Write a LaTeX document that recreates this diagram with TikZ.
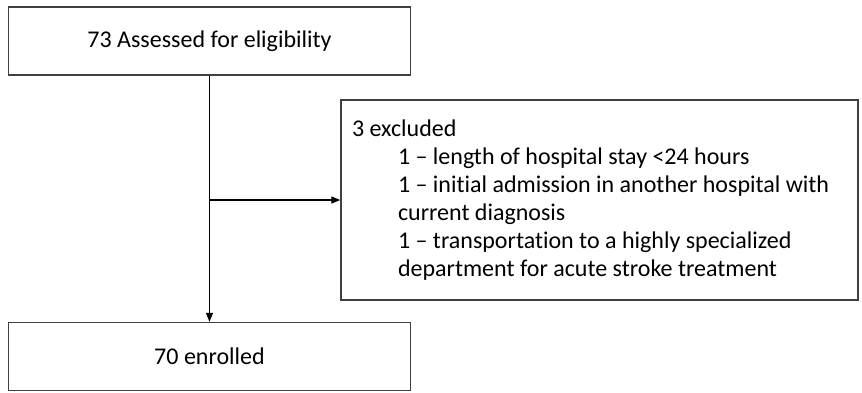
\documentclass[tikz,border=0pt]{standalone}
\usepackage{fontspec}
\setmainfont{Carlito}[Ligatures=NoCommon]
\usepackage{tikz}
\usetikzlibrary{arrows.meta,positioning}
\definecolor{FEdge}{HTML}{404040}
\definecolor{FLine}{HTML}{000000}
\newcommand{\indentitem}{\hspace*{46pt}}

\begin{document}
\begin{tikzpicture}[
  x=1pt,y=-1pt,
  every node/.style={font=\fontsize{24}{28}\selectfont},
  flowbox/.style={draw=FEdge,line width=1.4pt,fill=white,
    minimum width=402pt,minimum height=68pt,inner sep=0pt,align=center},
  notebox/.style={draw=FEdge,line width=1.4pt,fill=white,
    minimum width=517pt,minimum height=200pt,text width=495pt,
    inner sep=11pt,align=flush left},
  arr/.style={-{Triangle[length=9pt,width=7pt]},line width=1.3pt,color=FLine}
]
  \useasboundingbox (0,0) rectangle (862,392);
  \node[flowbox] (assessed) at (209.5,41) {73 Assessed for eligibility};
  \node[flowbox] (enrolled) at (209.5,356.5) {70 enrolled};
  \node[notebox] (excluded) at (599.5,200) {3 excluded\\
    \indentitem 1 – length of hospital stay <24 hours\\
    \indentitem 1 – initial admission in another hospital with\\
    \indentitem current diagnosis\\
    \indentitem 1 – transportation to a highly specialized\\
    \indentitem department for acute stroke treatment};

  \coordinate (split) at (assessed.south |- excluded.west);
  \draw[arr] (assessed.south) -- (enrolled.north);
  \draw[arr] (split) -- (excluded.west);
\end{tikzpicture}
\end{document}
